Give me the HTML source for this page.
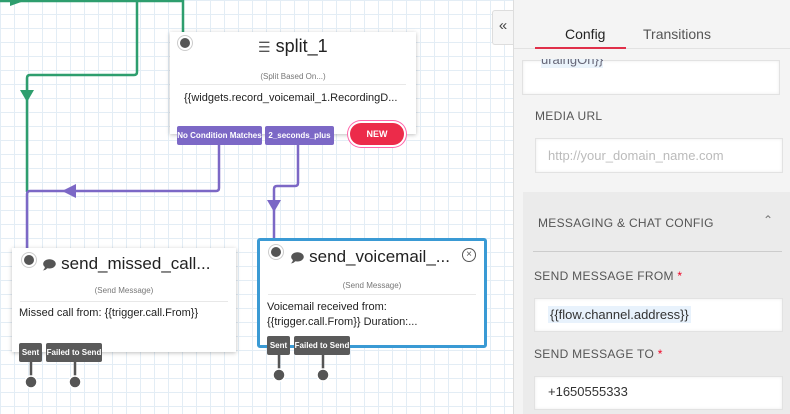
<!DOCTYPE html>
<html><head><style>
body{margin:0;width:790px;height:414px;overflow:hidden;position:relative;font-family:"Liberation Sans",sans-serif;
background-color:#fff;background-image:linear-gradient(#e3edf5 1px,transparent 1px),linear-gradient(90deg,#e3edf5 1px,transparent 1px);background-size:14px 14px}
.node{position:absolute;background:#fff;box-shadow:0 1px 4px rgba(0,0,0,.25);}
.dot{position:absolute;width:10px;height:10px;border-radius:50%;background:#555;box-shadow:0 0 0 2px #fff,0 0 0 3px #ccc}
.title{position:absolute;font-size:17px;color:#222;white-space:nowrap}
.sub{position:absolute;font-size:8px;color:#777;width:100%;text-align:center}
.hr{position:absolute;height:1px;background:#e8e8e8}
.body{position:absolute;font-size:11px;color:#222;line-height:15px}
.tag{position:absolute;color:#fff;font-size:8px;height:19px;line-height:19px;border-radius:2px;white-space:nowrap;font-weight:bold;text-align:center}
.p{background:#7c68c6}.g{background:#5a5a5a}
.panel{position:absolute;left:513px;top:0;width:277px;height:414px;background:#f4f4f4;border-left:1px solid #ddd}
.lbl{position:absolute;font-size:12px;color:#555;letter-spacing:.3px}
.inp{position:absolute;background:#fff;border:1px solid #e2e2e2;box-shadow:inset 0 0 3px rgba(0,0,0,.08)}
</style></head><body>
<svg width="520" height="414" style="position:absolute;left:0;top:0">
<g fill="none" stroke-width="2.5">
<path d="M0 1 H183 V34" stroke="#2e9e6e"/>
<path d="M137 0 V72 Q137 75 134 75 H30 Q27 75 27 78 V192" stroke="#2e9e6e"/>
<path d="M219 144 V188 Q219 191 216 191 H30 Q27 191 27 194 V250" stroke="#7c68c6"/>
<path d="M298 144 V183 Q298 186 295 186 H277 Q274 186 274 189 V240" stroke="#7c68c6"/>
</g>
<polygon points="20,90 34,90 27,102" fill="#2e9e6e"/>
<polygon points="62,191 76,184 76,198" fill="#7c68c6"/>
<polygon points="267,200 281,200 274,212" fill="#7c68c6"/>
<polygon points="10,-5 24,1 10,6" fill="#2e9e6e"/>
<g stroke="#555" stroke-width="2.5"><line x1="31" y1="362" x2="31" y2="380"/><line x1="75" y1="362" x2="75" y2="380"/><line x1="279" y1="355" x2="279" y2="374"/><line x1="323" y1="355" x2="323" y2="374"/></g>
<g fill="#555" stroke="#fff" stroke-width="1.5"><circle cx="31" cy="382" r="6"/><circle cx="75" cy="382" r="6"/><circle cx="279" cy="375" r="6"/><circle cx="323" cy="375" r="6"/></g>
</svg>

<div class="node" style="left:170px;top:32px;width:246px;height:102px">
<div class="dot" style="left:10px;top:6px"></div>
<div class="title" style="left:88px;top:4px;font-size:18px"><span style="font-size:14px;color:#555">&#x2630;</span> split_1</div>
<div class="sub" style="top:40px">(Split Based On...)</div>
<div class="hr" style="left:10px;right:10px;top:52px"></div>
<div class="body" style="left:14px;top:59px">{{widgets.record_voicemail_1.RecordingD...</div>
</div>
<div class="tag p" style="left:177px;top:126px;width:85px">No Condition Matches</div>
<div class="tag p" style="left:265px;top:126px;width:69px">2_seconds_plus</div>
<div style="position:absolute;left:350px;top:123px;width:54px;height:22px;border-radius:12px;background:#ec2b4a;color:#fff;font-size:9px;font-weight:bold;text-align:center;line-height:22px;box-shadow:0 0 0 2px #fff,0 0 0 3px #f6a">NEW</div>

<div class="node" style="left:12px;top:248px;width:224px;height:104px">
<div class="dot" style="left:12px;top:7px"></div>
<div class="title" style="left:30px;top:6px"><span style="font-size:13px;color:#555">&#x1F5E9;</span> send_missed_call...</div>
<div class="sub" style="top:38px">(Send Message)</div>
<div class="hr" style="left:8px;right:8px;top:53px"></div>
<div class="body" style="left:7px;top:58px">Missed call from: {{trigger.call.From}}</div>
</div>
<div class="tag g" style="left:19px;top:343px;width:23px">Sent</div>
<div class="tag g" style="left:46px;top:343px;width:56px">Failed to Send</div>

<div style="position:absolute;left:257px;top:238px;width:224px;height:104px;border:3px solid #3a9ad4;border-radius:3px;background:#fff">
<div class="dot" style="left:11px;top:6px"></div>
<div class="title" style="left:30px;top:6px"><span style="font-size:13px;color:#555">&#x1F5E9;</span> send_voicemail_...</div>
<div style="position:absolute;right:8px;top:7px;width:12px;height:12px;border:1px solid #555;border-radius:50%;font-size:10px;line-height:12px;text-align:center;color:#555">×</div>
<div class="sub" style="top:40px">(Send Message)</div>
<div class="hr" style="left:8px;right:8px;top:53px"></div>
<div class="body" style="left:7px;top:59px">Voicemail received from:<br>{{trigger.call.From}} Duration:...</div>
</div>
<div class="tag g" style="left:267px;top:336px;width:23px">Sent</div>
<div class="tag g" style="left:294px;top:336px;width:56px">Failed to Send</div>

<div class="panel">
<div style="position:absolute;left:8px;top:60px;width:256px;height:33px" class="inp"></div>
<div style="position:absolute;left:27px;top:58px;font-size:13px;color:#667;background:#eaf3fb;height:10px;overflow:hidden;line-height:4px">uraingOn}}</div>
<div style="position:absolute;left:0;top:0;width:277px;height:59px;background:#f4f4f4;border-bottom:0"></div>
<div style="position:absolute;left:51px;top:26px;font-size:14px;color:#222">Config</div>
<div style="position:absolute;left:129px;top:26px;font-size:14px;color:#555">Transitions</div>
<div style="position:absolute;left:0;top:48px;width:277px;height:1px;background:#e2e2e2"></div>
<div style="position:absolute;left:21px;top:47px;width:91px;height:2px;background:#e0304a"></div>
<div class="lbl" style="left:21px;top:109px">MEDIA URL</div>
<div class="inp" style="left:21px;top:138px;width:246px;height:33px"></div>
<div style="position:absolute;left:34px;top:148px;font-size:13px;color:#bbb">http://your_domain_name.com</div>
<div style="position:absolute;left:9px;top:192px;width:268px;height:222px;background:#ebebeb"></div>
<div class="lbl" style="left:24px;top:216px">MESSAGING &amp; CHAT CONFIG</div>
<div style="position:absolute;left:249px;top:213px;font-size:12px;color:#777">&#x2303;</div>
<div style="position:absolute;left:19px;top:251px;width:249px;height:1px;background:#ccc"></div>
<div class="lbl" style="left:20px;top:269px">SEND MESSAGE FROM <span style="color:#e02">*</span></div>
<div class="inp" style="left:20px;top:298px;width:247px;height:32px"></div>
<div style="position:absolute;left:34px;top:306px;font-size:13px;color:#333;background:#e8f2fc;padding:1px 2px">{{flow.channel.address}}</div>
<div class="lbl" style="left:20px;top:347px">SEND MESSAGE TO <span style="color:#e02">*</span></div>
<div class="inp" style="left:20px;top:376px;width:247px;height:32px"></div>
<div style="position:absolute;left:34px;top:384px;font-size:13px;color:#333">+1650555333</div>
</div>
<div style="position:absolute;left:492px;top:10px;width:20px;height:33px;background:#f6f6f6;border:1px solid #ddd;border-right:0;border-radius:3px 0 0 3px;font-size:15px;color:#444;text-align:center;line-height:30px">&laquo;</div>
</body></html>
